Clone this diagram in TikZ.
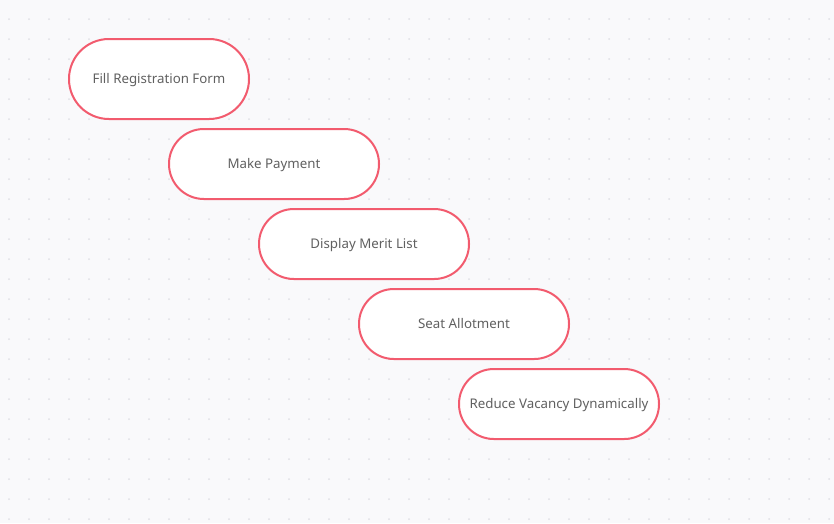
\documentclass[tikz,border=0pt]{standalone}
\usepackage{fontspec}
\setmainfont{Noto Sans}
\usetikzlibrary{positioning}
\definecolor{pill}{HTML}{F25B6E}
\definecolor{label}{HTML}{606060}
\definecolor{paper}{HTML}{F9F9FB}
\definecolor{dots}{HTML}{E0E0E6}

\begin{document}
\begin{tikzpicture}[x=1pt,y=-1pt,
  every node/.style={font=\fontsize{13.3}{15}\selectfont, text=label},
  stage/.style={draw=pill, line width=2pt, fill=white, rounded corners=34.9pt,
    minimum width=210pt, minimum height=70pt, inner sep=0pt,
    text height=9.5pt, text depth=0pt}]
% background and dot grid
\fill[paper] (0,0) rectangle (834,523);
\useasboundingbox (0,0) rectangle (834,523);
\foreach \i in {0,...,41}
  \foreach \j in {0,...,25}
    \fill[dots] (9+20*\i,19+20*\j) circle (1pt);
% stages
\node[stage, minimum width=180pt, minimum height=80pt, rounded corners=39.9pt] (Form) at (159,79) {Fill Registration Form};
\node[stage] (Payment) at (274,164) {Make Payment};
\node[stage] (Merit) at (364,244) {Display Merit List};
\node[stage] (Seat) at (464,324) {Seat Allotment};
\node[stage, minimum width=200pt] (Vacancy) at (559,404) {Reduce Vacancy Dynamically};
\end{tikzpicture}
\end{document}
